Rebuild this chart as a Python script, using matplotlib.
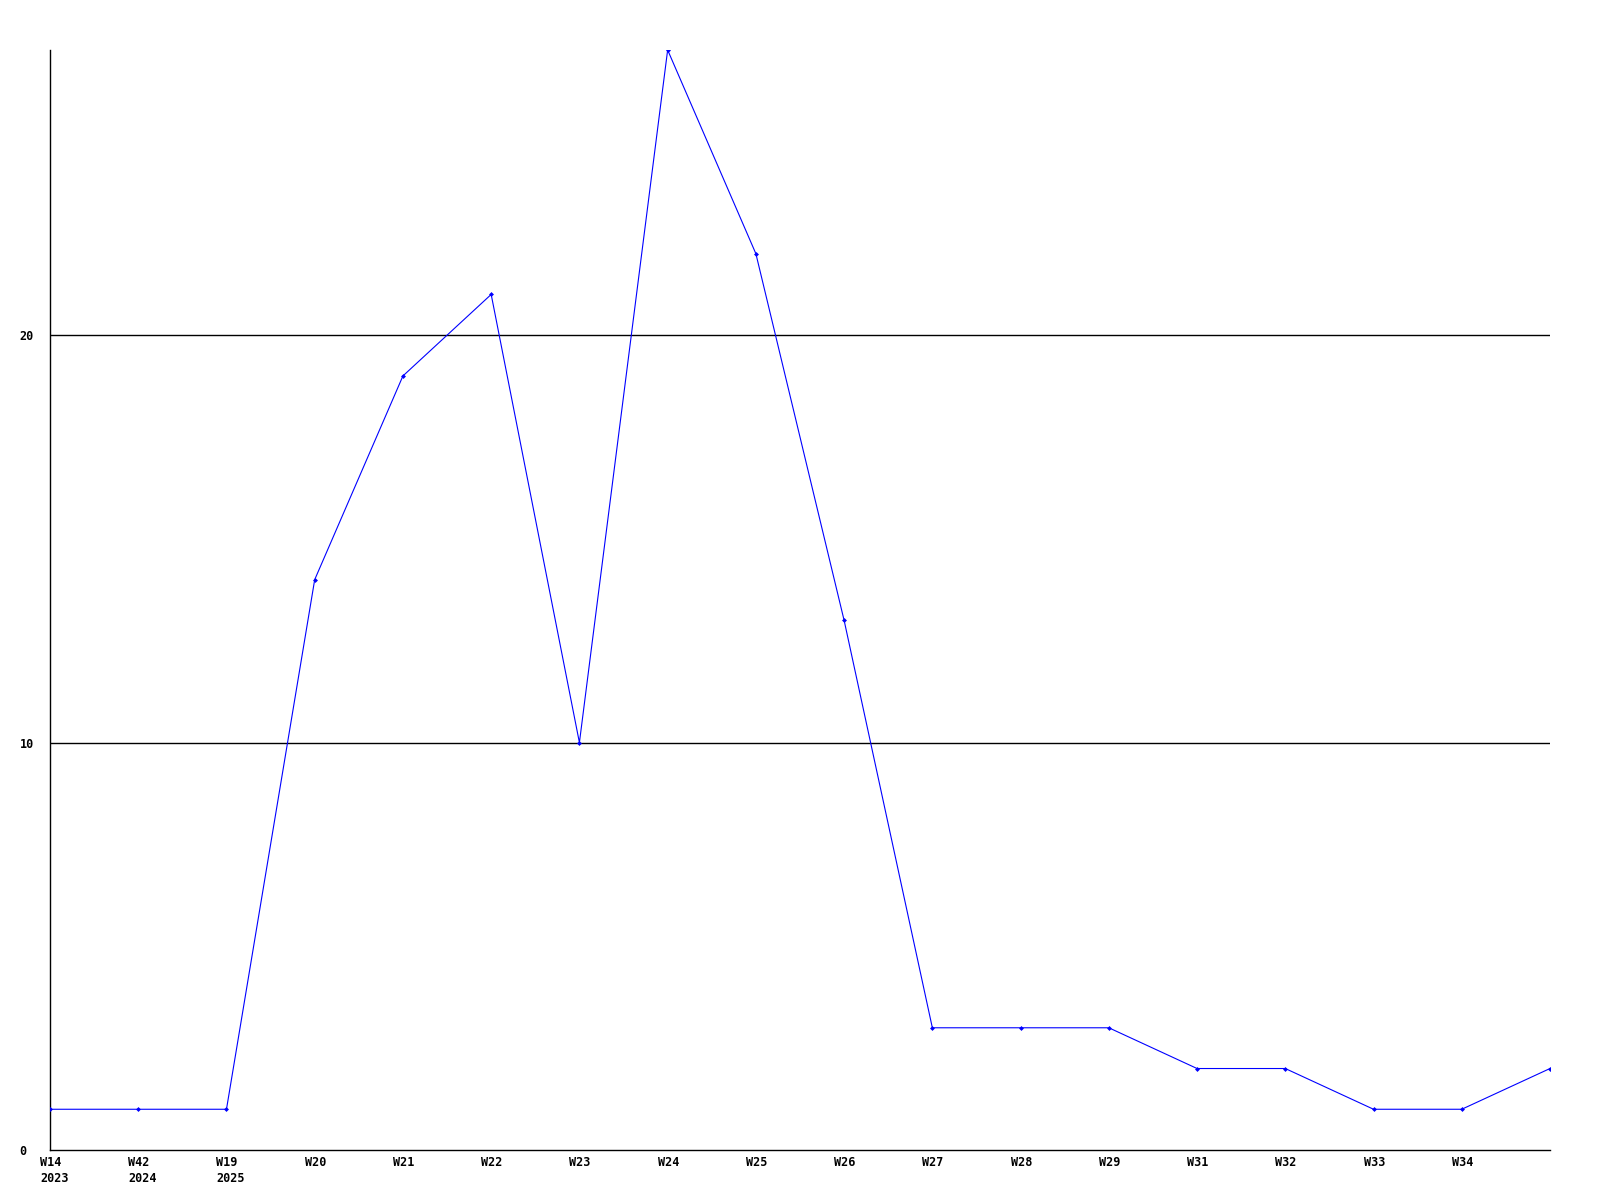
import matplotlib
matplotlib.use("Agg")
from matplotlib import pyplot as plt

# weekly counts
weeks = ["W14\n2023", "W42\n2024", "W19\n2025", "W20", "W21", "W22", "W23",
         "W24", "W25", "W26", "W27", "W28", "W29", "W31", "W32", "W33", "W34", ""]
counts = [1, 1, 1, 14, 19, 21, 10, 27, 22, 13, 3, 3, 3, 2, 2, 1, 1, 2]
y_ticks = [0, 10, 20]

plt.rcParams['font.family'] = ['DejaVu Sans Mono']

fig = plt.figure(figsize=(16, 12), dpi=100)
ax = fig.add_axes([50 / 1600, 50 / 1200, 1500 / 1600, 1100 / 1200])

x = list(range(len(counts)))
ax.plot(x, counts, color="#0000ff", linewidth=0.8, marker="D", markersize=2.5,
        markeredgewidth=0, zorder=3)

ax.set_xlim(0, len(counts) - 1)
ax.set_ylim(0, 27)

for v in y_ticks[1:]:
    ax.axhline(v, color="black", linewidth=1.0, zorder=1)

# x labels start a bit left of each point
ax.set_xticks(x)
ax.set_xticklabels([])
for xi, lbl in zip(x, weeks):
    ax.annotate(lbl, xy=(xi, 0), xycoords=("data", "axes fraction"),
                xytext=(-7.2, -4), textcoords="offset points",
                ha="left", va="top", fontsize=8.5, fontweight="bold",
                linespacing=1.3, annotation_clip=False)

ax.set_yticks(y_ticks)
ax.set_yticklabels([str(v) for v in y_ticks], fontsize=8.5, fontweight="bold",
                   ha="left")
ax.tick_params(axis="x", length=0)
ax.tick_params(axis="y", length=0, pad=22)

for side in ("top", "right"):
    ax.spines[side].set_visible(False)
for side in ("left", "bottom"):
    ax.spines[side].set_linewidth(1.0)
    ax.spines[side].set_color("black")

fig.savefig("out.png", dpi=100)
